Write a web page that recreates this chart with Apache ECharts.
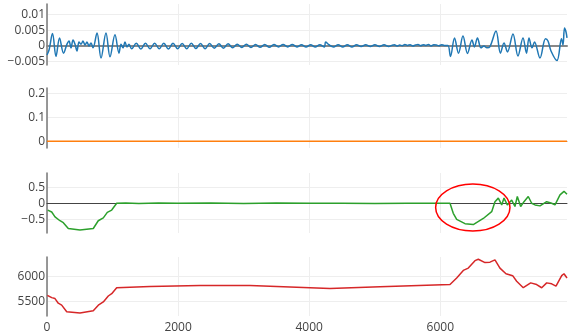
<!DOCTYPE html>
<html>
<head>
<meta charset="utf-8">
<script src="https://cdn.jsdelivr.net/npm/echarts@6/dist/echarts.min.js"></script>
<style>
  html, body { margin: 0; padding: 0; background: #fff; }
  #chart { width: 568px; height: 334px; }
</style>
</head>
<body>
<div id="chart"></div>
<script>
// Shared x axis
const xTicks = [0, 2000, 4000, 6000];
const xMax = 7933;

// Panel tick labels
const ticksA = [-0.005, 0, 0.005, 0.01];
const ticksB = [0, 0.1, 0.2];
const ticksC = [-0.5, 0, 0.5];
const ticksD = [5500, 6000];

// Panel 1: small oscillating signal
const seriesBlue = [
  [0, -0.0030], [31, -0.0014], [84, 0.0039], [137, -0.0035], [191, 0.0025], [252, -0.0024],
  [305, 0.0005], [336, 0.0015], [366, -0.0007], [397, 0.0018], [427, 0.0005], [458, -0.0017],
  [488, 0.0012], [519, 0.0005], [549, 0.0015], [580, 0.0002], [610, 0.0012], [641, -0.0001],
  [671, 0.0009], [702, -0.0007], [763, 0.0041], [824, -0.0040], [900, 0.0041], [961, -0.0036],
  [1037, 0.0035], [1098, -0.0024], [1129, 0.0005], [1159, -0.0007], [1190, 0.0012], [1220, -0.0004],
  [1251, 0.0005],
  [1292, -0.0010], [1362, 0.0008], [1432, -0.0011], [1502, 0.0008], [1572, -0.0010], [1642, 0.0008],
  [1712, -0.0010], [1782, 0.0008], [1852, -0.0011], [1922, 0.0008], [1992, -0.0010], [2062, 0.0007],
  [2132, -0.0010], [2202, 0.0008], [2272, -0.0009], [2342, 0.0007], [2412, -0.0010], [2482, 0.0007],
  [2552, -0.0008], [2622, 0.0006], [2692, -0.0008], [2762, 0.0006], [2832, -0.0007], [2902, 0.0005],
  [2972, -0.0006], [3042, 0.0005], [3112, -0.0006], [3182, 0.0004], [3252, -0.0005], [3322, 0.0004],
  [3392, -0.0005], [3462, 0.0004], [3532, -0.0004], [3602, 0.0004], [3672, -0.0004], [3742, 0.0004],
  [3812, -0.0004], [3882, 0.0003], [3952, -0.0004], [4022, 0.0003], [4092, -0.0004], [4162, 0.0003],
  [4232, -0.0004], [4250, 0.0012], [4302, 0.0003], [4372, -0.0004], [4442, 0.0003], [4512, -0.0004],
  [4582, 0.0003], [4652, -0.0004], [4722, 0.0003], [4792, -0.0003], [4862, 0.0003], [4932, -0.0003],
  [5002, 0.0003], [5072, -0.0003], [5142, 0.0003], [5212, -0.0003],
  [5260, 0.0001], [5300, 0.0003], [5340, -0.0001], [5380, 0.0002], [5420, 0.0000], [5460, 0.0004],
  [5500, 0.0001], [5540, 0.0003], [5580, -0.0001], [5620, 0.0002], [5660, 0.0004], [5700, 0.0000],
  [5740, 0.0003], [5780, 0.0001], [5820, 0.0004], [5860, -0.0001], [5900, 0.0003], [5940, 0.0002],
  [5980, 0.0000], [6020, 0.0003], [6060, 0.0001], [6117, 0.0001],
  [6155, -0.0035], [6217, 0.0025], [6278, -0.0024], [6346, 0.0031], [6415, -0.0025], [6483, 0.0018],
  [6521, -0.0004], [6567, 0.0025], [6621, -0.0007], [6667, -0.0001], [6712, -0.0007], [6758, -0.0003],
  [6850, 0.0047], [6918, -0.0024], [6972, 0.0009], [7025, -0.0020], [7109, 0.0038], [7185, -0.0033],
  [7262, 0.0025], [7315, -0.0024], [7353, 0.0025], [7399, -0.0007], [7437, 0.0012], [7521, -0.0040],
  [7605, 0.0022], [7643, 0.0015], [7689, -0.0017], [7780, -0.0048], [7849, 0.0022], [7872, 0.0002],
  [7895, 0.0057], [7918, 0.0044], [7933, 0.0025]
];

// Panel 2: flat signal
const seriesOrange = [
  [0, 0], [1000, 0], [2000, 0], [3000, 0], [4000, 0], [5000, 0], [6000, 0], [7000, 0], [7933, 0]
];

// Panel 3
const seriesGreen = [
  [11, -0.21], [72, -0.27], [122, -0.42], [198, -0.54], [249, -0.60], [325, -0.78], [503, -0.83],
  [706, -0.78], [782, -0.54], [859, -0.45], [920, -0.28], [987, -0.21], [1063, 0.0],
  [1200, 0.01], [1400, -0.005], [1700, 0.008], [2000, 0.0], [2500, 0.006], [3000, -0.004],
  [3500, 0.005], [4000, 0.0], [4500, 0.004], [5000, -0.003], [5500, 0.003], [6000, 0.0],
  [6148, 0.0], [6158, 0.0], [6198, -0.31], [6250, -0.50], [6377, -0.63], [6503, -0.66],
  [6656, -0.47], [6784, -0.26], [6834, 0.05], [6885, 0.16], [6937, -0.05], [6972, 0.16],
  [7022, -0.05], [7089, 0.10], [7139, -0.10], [7175, 0.21], [7226, -0.10], [7277, 0.05],
  [7342, 0.21], [7394, 0.0], [7445, -0.05], [7521, -0.08], [7623, 0.05], [7699, 0.0],
  [7750, -0.05], [7826, 0.26], [7887, 0.37], [7933, 0.28]
];

// Panel 4
const seriesRed = [
  [5, 5619], [72, 5573], [122, 5553], [172, 5460], [224, 5421], [301, 5289], [503, 5263],
  [706, 5308], [783, 5421], [859, 5486], [935, 5605], [987, 5652], [1063, 5771], [1571, 5796],
  [2334, 5816], [3097, 5816], [3707, 5787], [4317, 5757], [5080, 5790], [6148, 5836],
  [6250, 5968], [6351, 6119], [6427, 6166], [6529, 6316], [6580, 6344], [6682, 6277],
  [6758, 6285], [6834, 6330], [6910, 6166], [7002, 6053], [7104, 6014], [7165, 5901],
  [7266, 5771], [7379, 5869], [7470, 5836], [7547, 5771], [7623, 5869], [7699, 5850],
  [7765, 5802], [7852, 6014], [7887, 6053], [7933, 5968]
];

// Highlight ellipse in panel 3 (data coordinates)
const highlight = { x0: 5929, x1: 7063, y0: -0.857, y1: 0.597 };

const FONT = '"Open Sans", "Noto Sans", sans-serif';
const fmt = v => String(v).replace('-', '\u2212');

const grids = [
  { left: 47, width: 520, top: 4, height: 61 },
  { left: 47, width: 520, top: 88, height: 60 },
  { left: 47, width: 520, top: 173, height: 60 },
  { left: 47, width: 520, top: 257, height: 60 }
];
const yRanges = [[-0.00623, 0.01345], [-0.028, 0.224], [-0.92, 0.9375], [5203, 6389]];
const yTickSets = [ticksA, ticksB, ticksC, ticksD];
const zeroColors = ['#888', '#888', '#444', '#444'];
const zeroWidths = [2, 1, 1, 1];

const xAxes = grids.map((g, i) => ({
  type: 'value', gridIndex: i, min: 0, max: xMax,
  axisLine: { show: i < 3, onZero: true, lineStyle: { color: zeroColors[i], width: zeroWidths[i] } },
  axisTick: { show: false, customValues: xTicks },
  axisLabel: {
    show: i === 3, customValues: xTicks, margin: 6,
    fontFamily: FONT, fontSize: 12, color: '#444', formatter: fmt
  },
  splitLine: { show: true, lineStyle: { color: '#eee', width: 1 } }
}));

const yAxes = grids.map((g, i) => ({
  type: 'value', gridIndex: i, min: yRanges[i][0], max: yRanges[i][1],
  axisLine: { show: true, lineStyle: { color: '#777', width: 1.5 } },
  axisTick: { show: false, customValues: yTickSets[i] },
  axisLabel: {
    customValues: yTickSets[i], margin: 2,
    fontFamily: FONT, fontSize: 12, color: '#444', formatter: fmt
  },
  splitLine: { show: true, lineStyle: { color: '#eee', width: 1 } }
}));

const colors = ['#1f77b4', '#ff7f0e', '#2ca02c', '#d62728'];
const smoothing = [0.35, false, false, false];
const datasets = [seriesBlue, seriesOrange, seriesGreen, seriesRed];

const chart = echarts.init(document.getElementById('chart'), null, { renderer: 'canvas' });
chart.setOption({
  animation: false,
  backgroundColor: '#fff',
  grid: grids,
  xAxis: xAxes,
  yAxis: yAxes,
  series: datasets.map((d, i) => ({
    type: 'line', xAxisIndex: i, yAxisIndex: i, data: d,
    showSymbol: false, symbol: 'none', smooth: smoothing[i],
    lineStyle: { color: colors[i], width: 1.5 },
    clip: true
  }))
});

// Outline the region of interest on panel 3
const p0 = chart.convertToPixel({ gridIndex: 2 }, [highlight.x0, highlight.y1]);
const p1 = chart.convertToPixel({ gridIndex: 2 }, [highlight.x1, highlight.y0]);
chart.setOption({
  graphic: [{
    type: 'ellipse',
    shape: {
      cx: (p0[0] + p1[0]) / 2, cy: (p0[1] + p1[1]) / 2,
      rx: Math.abs(p1[0] - p0[0]) / 2, ry: Math.abs(p1[1] - p0[1]) / 2
    },
    style: { fill: 'none', stroke: '#ff0000', lineWidth: 1.5 },
    z: 100
  }]
});
</script>
</body>
</html>
